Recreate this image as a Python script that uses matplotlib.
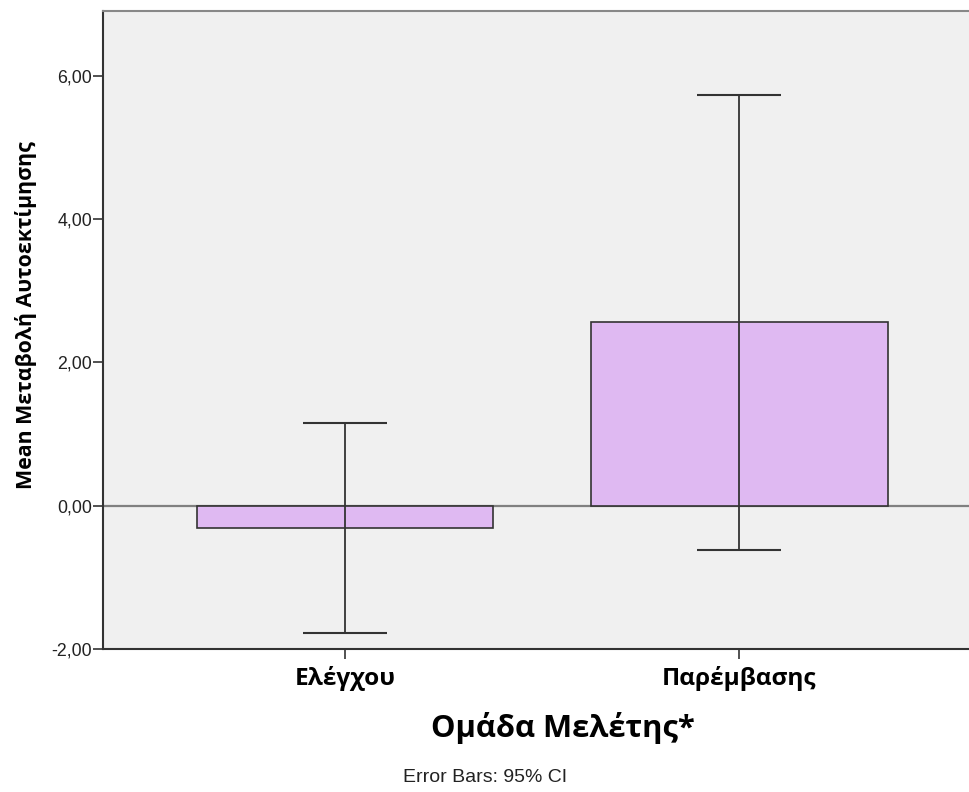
import matplotlib
matplotlib.use("Agg")
import matplotlib.pyplot as plt
from matplotlib.ticker import FuncFormatter

categories = ["Ελέγχου", "Παρέμβασης"]
means = [-0.31, 2.555]
ci_low = [-1.775, -0.615]
ci_high = [1.15, 5.73]
yticks = [-2, 0, 2, 4, 6]

plt.rcParams['font.family'] = ['Liberation Sans', 'DejaVu Sans']
greek_font = ['Open Sans', 'DejaVu Sans']

fig = plt.figure(figsize=(9.69, 7.92), dpi=100)
ax = fig.add_axes([0.1063, 0.1806, 0.8937, 0.8055])
ax.set_facecolor('#F0F0F0')

x = list(range(len(categories)))
ax.axhline(0, color='#808080', lw=1.6, zorder=1)
ax.bar(x, means, width=0.752, color='#DFB9F2', edgecolor='#333333', linewidth=1.2, zorder=2)
lower = [m - l for m, l in zip(means, ci_low)]
upper = [h - m for m, h in zip(means, ci_high)]
ax.errorbar(x, means, yerr=[lower, upper], fmt='none', ecolor='#333333', elinewidth=1.3,
            capsize=30, capthick=1.5, zorder=3)

ax.set_xlim(-0.613, 1.582)
ax.set_ylim(-2, 6.9)
ax.set_yticks(yticks)
ax.yaxis.set_major_formatter(FuncFormatter(lambda v, p: f"{v:.2f}".replace('.', ',')))
ax.set_xticks(x)
ax.set_xticklabels(categories, fontsize=17.6, fontweight='bold', family=greek_font)
ax.tick_params(axis='y', labelsize=12.8, length=7, width=1.2, color='#333333', pad=1, labelcolor='#222222')
ax.tick_params(axis='x', length=7, width=1.2, color='#333333', pad=5)

ax.spines['right'].set_visible(False)
ax.spines['left'].set_color('#333333')
ax.spines['bottom'].set_color('#333333')
ax.spines['top'].set_color('#888888')
for s in ['left', 'bottom', 'top']:
    ax.spines[s].set_linewidth(1.5)

ax.set_ylabel("Mean Μεταβολή Αυτοεκτίμησης", fontsize=15.4, fontweight='bold', family=greek_font)
ax.yaxis.set_label_coords((26 - 103) / 866, 0.5 + (330 - 315) / 638)
ax.yaxis.label.set_va('center')
ax.set_xlabel("Ομάδα Μελέτης*", fontsize=22.3, fontweight='bold', family=greek_font)
ax.xaxis.set_label_coords((563 - 103) / 866, -(728 - 649) / 638)
ax.xaxis.label.set_va('center')
fig.text(485 / 969, 1 - 777 / 792, "Error Bars: 95% CI", fontsize=14, ha='center', va='center',
         color='#222222')

fig.savefig("out.png", dpi=100, facecolor='white')
